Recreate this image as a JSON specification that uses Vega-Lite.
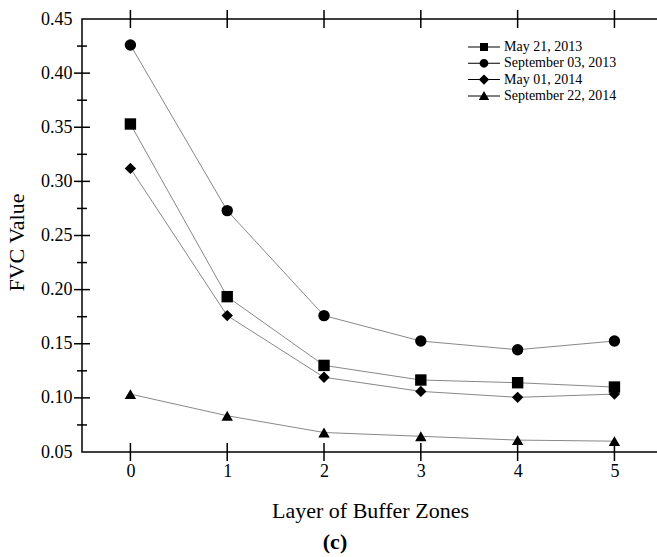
{
  "$schema": "https://vega.github.io/schema/vega-lite/v6.json",
  "autosize": "none",
  "width": 576,
  "height": 433,
  "padding": {"left": 82, "top": 19, "right": 0, "bottom": 105},
  "background": "white",
  "config": {
    "view": {"stroke": "black", "strokeWidth": 1.5},
    "font": "Liberation Serif",
    "axis": {
      "labelFont": "Liberation Serif",
      "labelFontSize": 18,
      "labelColor": "black",
      "titleFont": "Liberation Serif",
      "titleFontSize": 22,
      "titleFontWeight": "normal",
      "titleColor": "black",
      "domain": false,
      "ticks": false,
      "grid": false
    }
  },
  "title": {
    "text": "(c)",
    "orient": "bottom",
    "font": "Liberation Serif",
    "fontSize": 22,
    "fontWeight": "bold",
    "color": "black",
    "offset": 11,
    "dx": -35
  },
  "data": {
    "values": [
      {"layer": 0, "fvc": 0.353, "series": "May 21, 2013"},
      {"layer": 1, "fvc": 0.1935, "series": "May 21, 2013"},
      {"layer": 2, "fvc": 0.130, "series": "May 21, 2013"},
      {"layer": 3, "fvc": 0.1165, "series": "May 21, 2013"},
      {"layer": 4, "fvc": 0.114, "series": "May 21, 2013"},
      {"layer": 5, "fvc": 0.110, "series": "May 21, 2013"},
      {"layer": 0, "fvc": 0.426, "series": "September 03, 2013"},
      {"layer": 1, "fvc": 0.273, "series": "September 03, 2013"},
      {"layer": 2, "fvc": 0.176, "series": "September 03, 2013"},
      {"layer": 3, "fvc": 0.1525, "series": "September 03, 2013"},
      {"layer": 4, "fvc": 0.1445, "series": "September 03, 2013"},
      {"layer": 5, "fvc": 0.1525, "series": "September 03, 2013"},
      {"layer": 0, "fvc": 0.312, "series": "May 01, 2014"},
      {"layer": 1, "fvc": 0.176, "series": "May 01, 2014"},
      {"layer": 2, "fvc": 0.119, "series": "May 01, 2014"},
      {"layer": 3, "fvc": 0.106, "series": "May 01, 2014"},
      {"layer": 4, "fvc": 0.1005, "series": "May 01, 2014"},
      {"layer": 5, "fvc": 0.1035, "series": "May 01, 2014"},
      {"layer": 0, "fvc": 0.1035, "series": "September 22, 2014"},
      {"layer": 1, "fvc": 0.0835, "series": "September 22, 2014"},
      {"layer": 2, "fvc": 0.068, "series": "September 22, 2014"},
      {"layer": 3, "fvc": 0.0645, "series": "September 22, 2014"},
      {"layer": 4, "fvc": 0.061, "series": "September 22, 2014"},
      {"layer": 5, "fvc": 0.060, "series": "September 22, 2014"}
    ]
  },
  "layer": [
    {
      "mark": {"type": "line", "color": "#888888", "strokeWidth": 1},
      "encoding": {
        "x": {
          "field": "layer", "type": "quantitative",
          "scale": {"domain": [-0.5, 5.45], "nice": false, "zero": false},
          "axis": {
            "orient": "bottom",
            "title": "Layer of Buffer Zones",
            "values": [0, 1, 2, 3, 4, 5],
            "format": "d",
            "labelPadding": 10,
            "titlePadding": 20
          }
        },
        "y": {
          "field": "fvc", "type": "quantitative",
          "scale": {"domain": [0.05, 0.45], "nice": false, "zero": false},
          "axis": {
            "orient": "left",
            "title": "FVC Value",
            "titleY": 223,
            "values": [0.05, 0.1, 0.15, 0.2, 0.25, 0.3, 0.35, 0.4, 0.45],
            "format": ".2f",
            "labelPadding": 10,
            "titlePadding": 12
          }
        },
        "detail": {"field": "series"}
      }
    },
    {
      "data": {"values": [{"layer": 0, "fvc": 0.05}, {"layer": 1, "fvc": 0.05}, {"layer": 2, "fvc": 0.05}, {"layer": 3, "fvc": 0.05}, {"layer": 4, "fvc": 0.05}, {"layer": 5, "fvc": 0.05}, {"layer": 0, "fvc": 0.45}, {"layer": 1, "fvc": 0.45}, {"layer": 2, "fvc": 0.45}, {"layer": 3, "fvc": 0.45}, {"layer": 4, "fvc": 0.45}, {"layer": 5, "fvc": 0.45}]},
      "mark": {"type": "tick", "orient": "vertical", "color": "black", "size": 18, "thickness": 1.5, "opacity": 1},
      "encoding": {
        "x": {"field": "layer", "type": "quantitative", "axis": null},
        "y": {"field": "fvc", "type": "quantitative"}
      }
    },
    {
      "data": {"values": [{"fvc": 0.1}, {"fvc": 0.15}, {"fvc": 0.2}, {"fvc": 0.25}, {"fvc": 0.3}, {"fvc": 0.35}, {"fvc": 0.4}]},
      "mark": {"type": "tick", "orient": "horizontal", "color": "black", "size": 16, "thickness": 1.5, "opacity": 1},
      "encoding": {
        "y": {"field": "fvc", "type": "quantitative"},
        "x": {"datum": -0.5, "type": "quantitative", "axis": null}
      }
    },
    {
      "data": {"values": [{"fvc": 0.075}, {"fvc": 0.125}, {"fvc": 0.175}, {"fvc": 0.225}, {"fvc": 0.275}, {"fvc": 0.325}, {"fvc": 0.375}, {"fvc": 0.425}]},
      "mark": {"type": "tick", "orient": "horizontal", "color": "black", "size": 10, "thickness": 1.5, "opacity": 1},
      "encoding": {
        "y": {"field": "fvc", "type": "quantitative"},
        "x": {"datum": -0.5, "type": "quantitative", "axis": null}
      }
    },
    {
      "mark": {"type": "point", "filled": true, "color": "black", "size": 130, "opacity": 1},
      "encoding": {
        "x": {"field": "layer", "type": "quantitative", "axis": null},
        "y": {"field": "fvc", "type": "quantitative"},
        "shape": {
          "field": "series", "type": "nominal",
          "scale": {
            "domain": ["May 21, 2013", "September 03, 2013", "May 01, 2014", "September 22, 2014"],
            "range": ["square", "circle", "diamond", "triangle-up"]
          },
          "legend": null
        }
      }
    },
    {
      "mark": {"type": "point", "filled": true, "color": "black", "opacity": 0},
      "encoding": {
        "x": {"field": "layer", "type": "quantitative", "axis": null},
        "y": {"field": "fvc", "type": "quantitative"},
        "shape": {
          "field": "series", "type": "nominal",
          "scale": {
            "domain": ["May 21, 2013", "September 03, 2013", "May 01, 2014", "September 22, 2014"],
            "range": [
              "M-2,-0.06H2V0.06H-2ZM-0.5,-0.5H0.5V0.5H-0.5Z",
              "M-2,-0.06H2V0.06H-2ZM-0.55,0A0.55,0.55 0 1,1 0.55,0A0.55,0.55 0 1,1 -0.55,0Z",
              "M-2,-0.06H2V0.06H-2ZM0,-0.65L0.65,0L0,0.65L-0.65,0Z",
              "M-2,-0.06H2V0.06H-2ZM0,-0.6L0.65,0.5L-0.65,0.5Z"
            ]
          },
          "legend": {
            "title": null,
            "orient": "none",
            "legendX": 394,
            "legendY": 20,
            "symbolSize": 256,
            "symbolOpacity": 1,
            "symbolFillColor": "black",
            "symbolStrokeWidth": 0,
            "labelFont": "Liberation Serif",
            "labelFontSize": 14,
            "labelColor": "black",
            "labelOffset": 12,
            "rowPadding": 1.3,
            "encode": {
              "symbols": {
                "update": {
                  "fill": {"value": "black"},
                  "opacity": {"value": 1},
                  "fillOpacity": {"value": 1}
                }
              }
            }
          }
        }
      }
    }
  ],
  "resolve": {"scale": {"shape": "independent"}, "axis": {"x": "independent"}}
}
